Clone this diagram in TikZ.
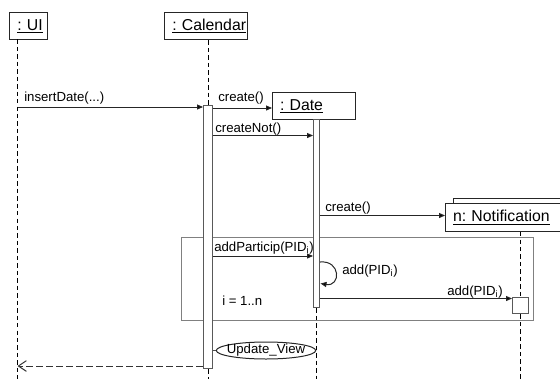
\documentclass[tikz,border=0pt]{standalone}
\usepackage{fontspec}
\setmainfont{Liberation Sans}
\usetikzlibrary{arrows.meta,shapes.geometric}
\begin{document}
\frenchspacing
\begin{tikzpicture}[x=0.75pt,y=-0.75pt,
  obj/.style={draw=black!85, line width=0.8pt, fill=white, inner xsep=5.6pt, inner ysep=0pt,
    anchor=north west, align=left, font=\fontsize{11.85}{14}\selectfont\frenchspacing},
  life/.style={line width=0.8pt, dash pattern=on 3.3pt off 2.3pt},
  act/.style={draw=black!65, line width=1.1pt, fill=white, inner sep=0pt, anchor=north west},
  msg/.style={draw=black!85, line width=0.75pt, -{Triangle[length=4.5pt,width=3.8pt,fill=black]}},
  ret/.style={draw=black!80, line width=0.75pt, dash pattern=on 5pt off 2.5pt, -{Straight Barb[length=6pt,width=8pt]}},
  lbl/.style={font=\fontsize{9.9}{12}\selectfont, inner sep=0pt, anchor=base west},
  frm/.style={draw=black!50, line width=0.9pt, inner sep=0pt, anchor=north west},
]
\useasboundingbox (0,0) rectangle (560,379);
\clip (0,0) rectangle (560,379);

% combined fragment frame
\node[frm, minimum width=264pt, minimum height=62.25pt] (loop) at (181,237) {};

% objects
\node[obj, minimum height=20.5pt, text width=16.9pt] (ui) at (9.3,12) {\underline{: UI}};
\node[obj, minimum height=20.5pt, text width=50.6pt] (cal) at (164.3,12) {\underline{: Calendar}};
\node[obj, minimum height=20.25pt, text width=50.8pt] (date) at (272,92) {\underline{: Date}};
\node[obj, minimum height=21pt, text width=130pt] (notifBack) at (453,198) {};
\node[obj, minimum height=21pt, text width=130pt] (notif) at (445,203) {\underline{n: Notification}};

% lifeline end points
\coordinate (uiTop) at (17.5,39.3);
\coordinate (uiBot) at (17.5,379);
\coordinate (bottom) at (0,379);

% activations
\node[act, minimum width=6.75pt, minimum height=197.25pt] (calAct) at (203,105) {};
\node[act, minimum width=4.5pt, minimum height=141pt] (dateAct) at (313,119) {};
\node[act, minimum width=12pt, minimum height=12pt] (notifAct) at (512,297) {};

% lifelines
\draw[life] (uiTop) -- (uiBot);
\draw[life] (calAct.north |- cal.south) -- (calAct.north);
\draw[life] (calAct.south) -- (calAct.south |- bottom);
\draw[life] (dateAct.south) -- (dateAct.south |- bottom);
\draw[life] (notifAct.north |- notif.south) -- (notifAct.north);
\draw[life] (notifAct.south) -- (notifAct.south |- bottom);

% y levels
\coordinate (y1) at (0,107);
\coordinate (y2) at (0,108);
\coordinate (y3) at (0,135.5);
\coordinate (y4) at (0,215.5);
\coordinate (y5) at (0,256);
\coordinate (y7) at (0,298.5);
\coordinate (y9) at (0,366);

% messages
\draw[msg] (uiTop |- y1) -- (calAct.west |- y1);
\node[lbl] (l1) at (24,101.5) {insertDate(...)};

\draw[msg] (calAct.east |- y2) -- (date.west |- y2);
\node[lbl] (l2) at (218,101) {create()};

\draw[msg] (calAct.east |- y3) -- (dateAct.west |- y3);
\node[lbl] (l3) at (215,132) {createNot()};

\draw[msg] (dateAct.east |- y4) -- (notif.west |- y4);
\node[lbl] (l4) at (325,211.5) {create()};

\draw[msg] (calAct.east |- y5) -- (dateAct.west |- y5);
\node[lbl] (l5) at (214,251) {addParticip(PID\textsubscript{i})};

\coordinate (s1) at (320,262);
\coordinate (s2) at (320.5,283.5);
\draw[msg] (s1) .. controls (341,260) and (341,287) .. (s2);
\node[lbl] (l6) at (342,274) {add(PID\textsubscript{i})};

\draw[msg] (dateAct.east |- y7) -- (notifAct.west |- y7);
\node[lbl] (l7) at (447,295.5) {add(PID\textsubscript{i})};

\node[lbl] (l8) at (222,305) {i = 1..n};

% update view
\node[draw=black!85, line width=0.75pt, ellipse, inner xsep=-3pt, inner ysep=-0.6pt, minimum width=73.5pt, minimum height=12.75pt,
  font=\fontsize{9.9}{12}\selectfont] (uv) at (266,350.5) {Update\_View};
\draw[draw=black!70, line width=0.75pt] (calAct.east |- uv.west) -- (uv.west);

% return
\draw[ret] (calAct.west |- y9) -- (uiTop |- y9);
\end{tikzpicture}
\end{document}
